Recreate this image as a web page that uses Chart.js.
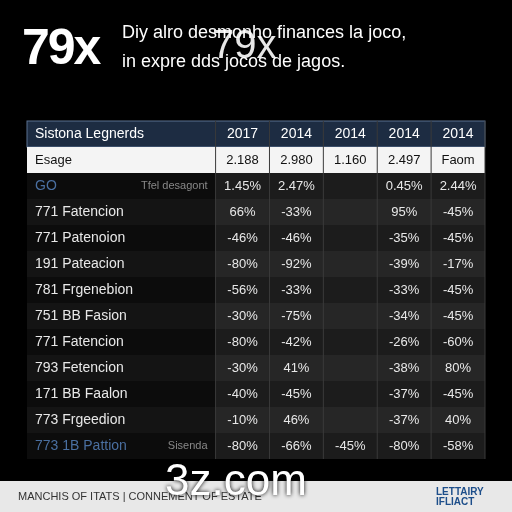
<!DOCTYPE html>
<html><head><meta charset="utf-8">
<script src="https://cdn.jsdelivr.net/npm/chart.js@4"></script>
<style>
html,body{margin:0;padding:0;background:#000;width:512px;height:512px;overflow:hidden;font-family:"Liberation Sans",Arial,sans-serif}
#wrap{position:absolute;left:0;top:0;width:512px;height:512px}
.t{position:absolute;color:#fff;white-space:nowrap}
</style></head><body>
<div id="wrap"><canvas id="c" width="512" height="512"></canvas></div>
<div class="t" style="left:22px;top:18px;font-size:50px;font-weight:bold;letter-spacing:-2px">79x</div>
<div class="t" style="left:122px;top:22px;font-size:18px">Diy alro desmonho finances la joco,</div>
<div class="t" style="left:122px;top:51px;font-size:18px">in expre dds jocos de jagos.</div>
<div class="t" style="left:212px;top:22px;font-size:40px;opacity:0.9">79x</div>
<div style="position:absolute;left:0;top:481px;width:512px;height:31px;background:#e8e8e8"></div>
<div class="t" style="left:18px;top:490px;font-size:11px;color:#333">MANCHIS OF ITATS | CONNEMENT OF ESTATE</div>
<div class="t" style="left:436px;top:487px;font-size:10px;color:#1d4e8a;font-weight:bold;line-height:10px">LETTAIRY<br>IFLIACT</div>
<div class="t" style="left:165px;top:455px;font-size:44px;text-shadow:0 0 4px #000">3z.com</div>
<script>
const colHeaders=['2017','2014','2014','2014','2014'];
const esageRow=['2.188','2.980','1.160','2.497','Faom'];
const rowLabels=['GO','771 Fatencion','771 Patenoion','191 Pateacion','781 Frgenebion','751 BB Fasion','771 Fatencion','793 Fetencion','171 BB Faalon','773 Frgeedion','773 1B Pattion'];
const rowSubLabels=['Tfel desagont','','','','','','','','','','Sisenda'];
const col1=[1.45,66,-46,-80,-56,-30,-80,-30,-40,-10,-80];
const col2=[2.47,-33,-46,-92,-33,-75,-42,41,-45,46,-66];
const col3=[null,null,null,null,null,null,null,null,null,null,-45];
const col4=[0.45,95,-35,-39,-33,-34,-26,-38,-37,-37,-80];
const col5=[2.44,-45,-45,-17,-45,-45,-60,80,-45,40,-58];
const cols=[col1,col2,col3,col4,col5];
const colX=[4,5,6,7,8];
const plugin={id:'tbl',beforeDatasetsDraw(ch){
 const c=ch.ctx,x=ch.scales.x,y=ch.scales.y;
 const X=v=>x.getPixelForValue(v),Y=v=>y.getPixelForValue(v);
 const L=X(0),R=X(8.5),rowH=Math.abs(Y(1)-Y(0));
 c.save();
 c.fillStyle='#1d2c42';c.fillRect(L,Y(0)-rowH/2,R-L,rowH);
 c.strokeStyle='#5a7090';c.lineWidth=1;c.strokeRect(L,Y(0)-rowH/2,R-L,rowH);
 c.fillStyle='#f4f4f4';c.fillRect(L,Y(1)-rowH/2,R-L,rowH);
 for(let i=0;i<rowLabels.length;i++){
  const yy=Y(i+2);
  c.fillStyle=i%2?'#141414':'#0c0c0c';c.fillRect(L,yy-rowH/2,R-L,rowH);
  c.fillStyle=i%2?'#262626':'#1c1c1c';c.fillRect(X(3.5),yy-rowH/2,R-X(3.5),rowH);
 }
 c.strokeStyle='#3a3a3a';
 for(let k=0;k<6;k++){const xx=X(3.5+k);c.beginPath();c.moveTo(xx,Y(0)-rowH/2);c.lineTo(xx,Y(rowLabels.length+1)+rowH/2);c.stroke();}
 c.textBaseline='middle';
 c.font='14px "Liberation Sans",Arial';c.fillStyle='#fff';c.textAlign='left';
 c.fillText('Sistona Legnerds',L+8,Y(0));
 c.textAlign='center';
 colHeaders.forEach((h,k)=>c.fillText(h,X(colX[k]),Y(0)));
 c.fillStyle='#111';c.textAlign='left';c.font='13px "Liberation Sans",Arial';c.fillText('Esage',L+8,Y(1));
 c.textAlign='center';esageRow.forEach((h,k)=>c.fillText(h,X(colX[k]),Y(1)));
 rowLabels.forEach((lab,i)=>{
  const yy=Y(i+2);const last=i===rowLabels.length-1||i===0;
  c.fillStyle=last?'#4a6fa0':'#e8e8e8';c.textAlign='left';c.font='14px "Liberation Sans",Arial';
  c.fillText(lab,L+8,yy);
  if(rowSubLabels[i]){c.font='11px "Liberation Sans",Arial';c.fillStyle='#888';c.textAlign='right';c.fillText(rowSubLabels[i],X(3.5)-8,yy);}
  c.font='13px "Liberation Sans",Arial';c.fillStyle='#e8e8e8';c.textAlign='center';
  cols.forEach((col,k)=>{const v=col[i];if(v!==null)c.fillText(v.toFixed(i===0?2:0)+'%',X(colX[k]),yy);});
 });
 c.restore();
}};
new Chart(document.getElementById('c'),{type:'scatter',data:{datasets:[{data:[]}]},
 options:{responsive:false,animation:false,events:[],
  layout:{padding:{left:27,right:27,top:121,bottom:53}},
  plugins:{legend:{display:false},tooltip:{enabled:false}},
  scales:{x:{type:'linear',min:0,max:8.5,display:false},y:{type:'linear',min:-0.5,max:12.5,reverse:true,display:false}}},
 plugins:[plugin]});
</script></body></html>
